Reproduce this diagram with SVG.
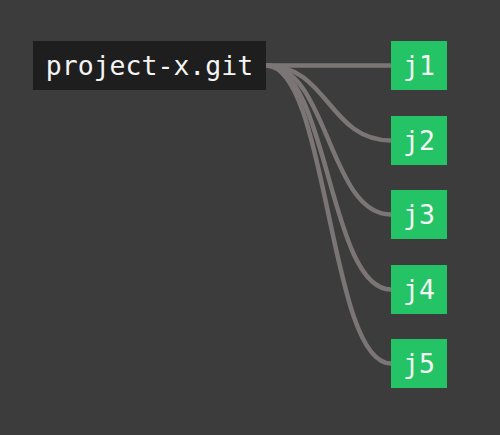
<svg xmlns="http://www.w3.org/2000/svg" width="500" height="435" viewBox="0 0 500 435">
<style>
.edge{fill:none;stroke:#7b7675;stroke-width:4.5}
.lbl{font-family:"DejaVu Sans Mono",monospace;font-size:26.5px;fill:#f4f4f4;text-anchor:middle}
.job{fill:#24c466}
</style>
<rect width="500" height="435" fill="#3c3c3c"/>
<g id="connectors">
<path class="edge" d="M266,65.5 C328.5,65.5 328.5,65.5 391,65.5"/>
<path class="edge" d="M266,65.5 C328.5,65.5 328.5,140.5 391,140.5"/>
<path class="edge" d="M266,65.5 C328.5,65.5 328.5,214.5 391,214.5"/>
<path class="edge" d="M266,65.5 C328.5,65.5 328.5,289.5 391,289.5"/>
<path class="edge" d="M266,65.5 C328.5,65.5 328.5,363.5 391,363.5"/>
</g>
<g id="repo">
<rect x="33" y="41" width="233" height="49" fill="#1e1e1e"/>
<text class="lbl" x="149.5" y="74.5">project-x.git</text>
</g>
<g id="j1"><rect class="job" x="391" y="41" width="56" height="49"/><text class="lbl" x="419" y="74.5">j1</text></g>
<g id="j2"><rect class="job" x="391" y="116" width="56" height="49"/><text class="lbl" x="419" y="149.5">j2</text></g>
<g id="j3"><rect class="job" x="391" y="190" width="56" height="49"/><text class="lbl" x="419" y="223.5">j3</text></g>
<g id="j4"><rect class="job" x="391" y="265" width="56" height="49"/><text class="lbl" x="419" y="298.5">j4</text></g>
<g id="j5"><rect class="job" x="391" y="339" width="56" height="49"/><text class="lbl" x="419" y="372.5">j5</text></g>
</svg>
